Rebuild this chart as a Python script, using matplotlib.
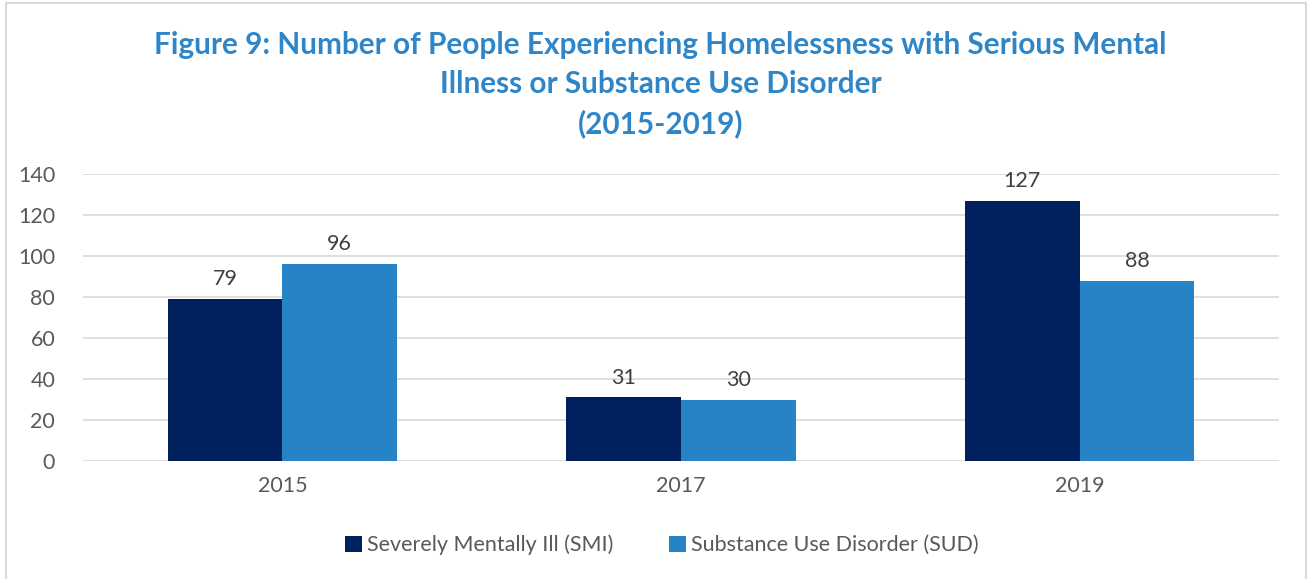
import matplotlib
matplotlib.use("Agg")
import matplotlib.pyplot as plt
import numpy as np
from matplotlib.patches import Rectangle

plt.rcParams['font.family'] = ['Lato', 'DejaVu Sans']

years = ["2015", "2017", "2019"]
smi = [79, 31, 127]
sud = [96, 30, 88]
series_names = ["Severely Mentally Ill (SMI)", "Substance Use Disorder (SUD)"]
yticks = [0, 20, 40, 60, 80, 100, 120, 140]

smi_color = "#01205E"
sud_color = "#2683C6"
title_color = "#2E86C8"
text_gray = "#595959"

fig = plt.figure(figsize=(13.08, 5.79), dpi=100)
fig.patch.set_facecolor("white")

# chart frame
fig.add_artist(Rectangle((6 / 1308, -0.01), 1300 / 1308, 1 - 3 / 579 + 0.01,
                         transform=fig.transFigure, fill=False,
                         edgecolor="#D9D9D9", linewidth=1.5))

ax = fig.add_axes([83 / 1308, 1 - 461 / 579, (1279 - 83) / 1308, (461 - 174) / 579])

x = np.arange(len(years))
w = 0.288
b1 = ax.bar(x - w / 2, smi, w, color=smi_color, label=series_names[0])
b2 = ax.bar(x + w / 2, sud, w, color=sud_color, label=series_names[1])

for bars, vals in ((b1, smi), (b2, sud)):
    for bar, v in zip(bars, vals):
        ax.annotate(str(v), (bar.get_x() + bar.get_width() / 2, v),
                    xytext=(0, 7), textcoords="offset points",
                    ha="center", va="bottom", fontsize=15.5, color="#404040")

ax.set_xlim(-0.5, 2.5)
ax.set_ylim(0, 140)
ax.set_yticks(yticks)
ax.set_xticks(x)
ax.set_xticklabels(years)
ax.tick_params(axis="both", length=0, labelsize=15.5, labelcolor=text_gray)
ax.tick_params(axis="y", pad=20)
ax.tick_params(axis="x", pad=11)
ax.grid(axis="y", color="#D9D9D9", linewidth=1.2)
ax.set_axisbelow(True)
for s in ax.spines.values():
    s.set_visible(False)

fig.text(0.505, 1 - 31 / 579,
         "Figure 9: Number of People Experiencing Homelessness with Serious Mental\n"
         "Illness or Substance Use Disorder\n(2015-2019)",
         ha="center", va="top", fontsize=21.4, fontweight="bold",
         color=title_color, linespacing=1.47)

leg = fig.legend(handles=[b1, b2], labels=series_names, loc="center",
                 bbox_to_anchor=(662 / 1308, 1 - 545 / 579), ncol=2,
                 frameon=False, fontsize=15.5, handlelength=0.75, handleheight=0.75,
                 handletextpad=0.25, columnspacing=2.6)
for t in leg.get_texts():
    t.set_color(text_gray)

fig.savefig("out.png", dpi=100, facecolor="white")
